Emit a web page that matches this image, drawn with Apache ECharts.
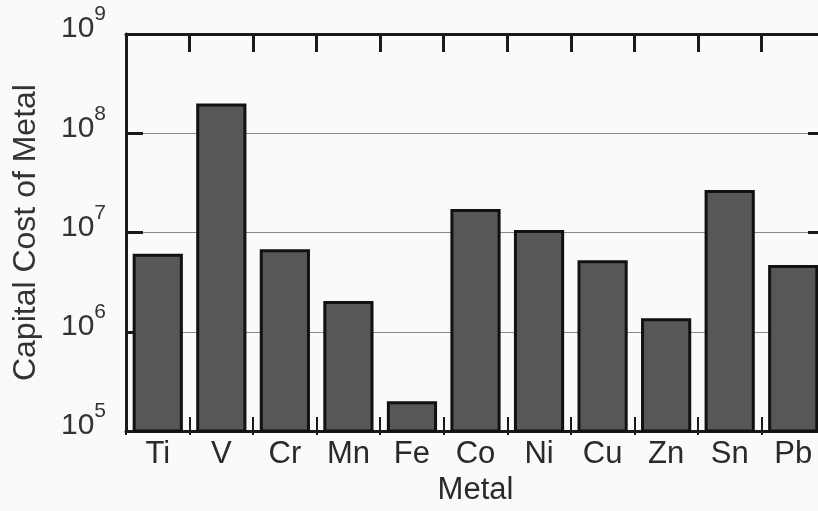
<!DOCTYPE html>
<html><head><meta charset="utf-8">
<script src="https://cdn.jsdelivr.net/npm/echarts@6/dist/echarts.min.js"></script>
<style>html,body{margin:0;padding:0;background:#fafafa;overflow:hidden}#c{width:827px;height:511px}</style>
</head><body><div id="c"></div>
<script>
const categories = ['Ti','V','Cr','Mn','Fe','Co','Ni','Cu','Zn','Sn','Pb'];
const capitalCost = [6.1e6, 2.0e8, 6.8e6, 2.05e6, 2.0e5, 1.73e7, 1.06e7, 5.25e6, 1.37e6, 2.68e7, 4.7e6];
const yMin = 1e5, yMax = 1e9;
const xName = 'Metal';
const yName = 'Capital Cost of Metal';

const FONT = '"Liberation Sans", Arial, sans-serif';
const ink = '#1a1a1a';
const chart = echarts.init(document.getElementById('c'), null, {renderer: 'canvas'});
chart.setOption({
  backgroundColor: '#fafafa',
  animation: false,
  grid: [
    {left: 126, right: 2, top: 34, bottom: 76},
    {left: 126, right: 2, top: 399, bottom: 94}
  ],
  xAxis: [{
    type: 'category', data: categories, position: 'bottom', gridIndex: 0,
    name: xName, nameLocation: 'middle', nameGap: 43,
    nameTextStyle: {fontFamily: FONT, fontSize: 31, color: '#2a2a2a'},
    axisLine: {show: true, lineStyle: {color: ink, width: 3}},
    axisTick: {show: false},
    axisLabel: {fontFamily: FONT, fontSize: 31, color: '#2a2a2a', margin: 8, interval: 0},
    splitLine: {show: false}
  }, {
    type: 'category', data: categories, position: 'top', gridIndex: 0,
    axisLine: {show: true, lineStyle: {color: ink, width: 3}},
    axisTick: {show: true, inside: true, length: 18, alignWithLabel: false, interval: 0, lineStyle: {color: ink, width: 3}},
    axisLabel: {show: false}
  }, {
    type: 'category', data: categories, position: 'top', gridIndex: 1, z: 20,
    axisLine: {show: false},
    axisTick: {show: true, inside: true, length: 18, alignWithLabel: false, interval: 0, lineStyle: {color: ink, width: 2}},
    axisLabel: {show: false},
    splitLine: {show: false}
  }],
  yAxis: [{
    type: 'log', logBase: 10, min: yMin, max: yMax, position: 'left', gridIndex: 0,
    name: yName, nameLocation: 'middle', nameGap: 84, nameRotate: 90,
    nameTextStyle: {fontFamily: FONT, fontSize: 32, color: '#333'},
    axisLine: {show: true, lineStyle: {color: ink, width: 3}},
    axisTick: {show: true, inside: true, length: 17, lineStyle: {color: ink, width: 3}},
    minorTick: {show: false},
    splitLine: {show: true, lineStyle: {color: '#8a8a8a', width: 1}},
    axisLabel: {
      margin: 20,
      padding: [0, 0, 20, 0],
      formatter: v => '{b|10}{s|' + Math.round(Math.log10(v)) + '}',
      rich: {
        b: {fontFamily: FONT, fontSize: 30, color: '#333', lineHeight: 40, verticalAlign: 'bottom'},
        s: {fontFamily: FONT, fontSize: 21, color: '#333', verticalAlign: 'top', lineHeight: 21}
      }
    }
  }, {
    type: 'log', logBase: 10, min: yMin, max: yMax, position: 'right', gridIndex: 0,
    axisLine: {show: true, lineStyle: {color: ink, width: 3}},
    axisTick: {show: true, inside: true, length: 17, lineStyle: {color: ink, width: 3}},
    axisLabel: {show: false}, splitLine: {show: false}
  }, {
    type: 'value', gridIndex: 1, show: false, min: 0, max: 1
  }],
  series: [{
    type: 'bar', data: capitalCost, xAxisIndex: 0, yAxisIndex: 0,
    barWidth: '79%',
    itemStyle: {color: '#575757', borderColor: '#111', borderWidth: 3}
  }]
});
</script></body></html>
